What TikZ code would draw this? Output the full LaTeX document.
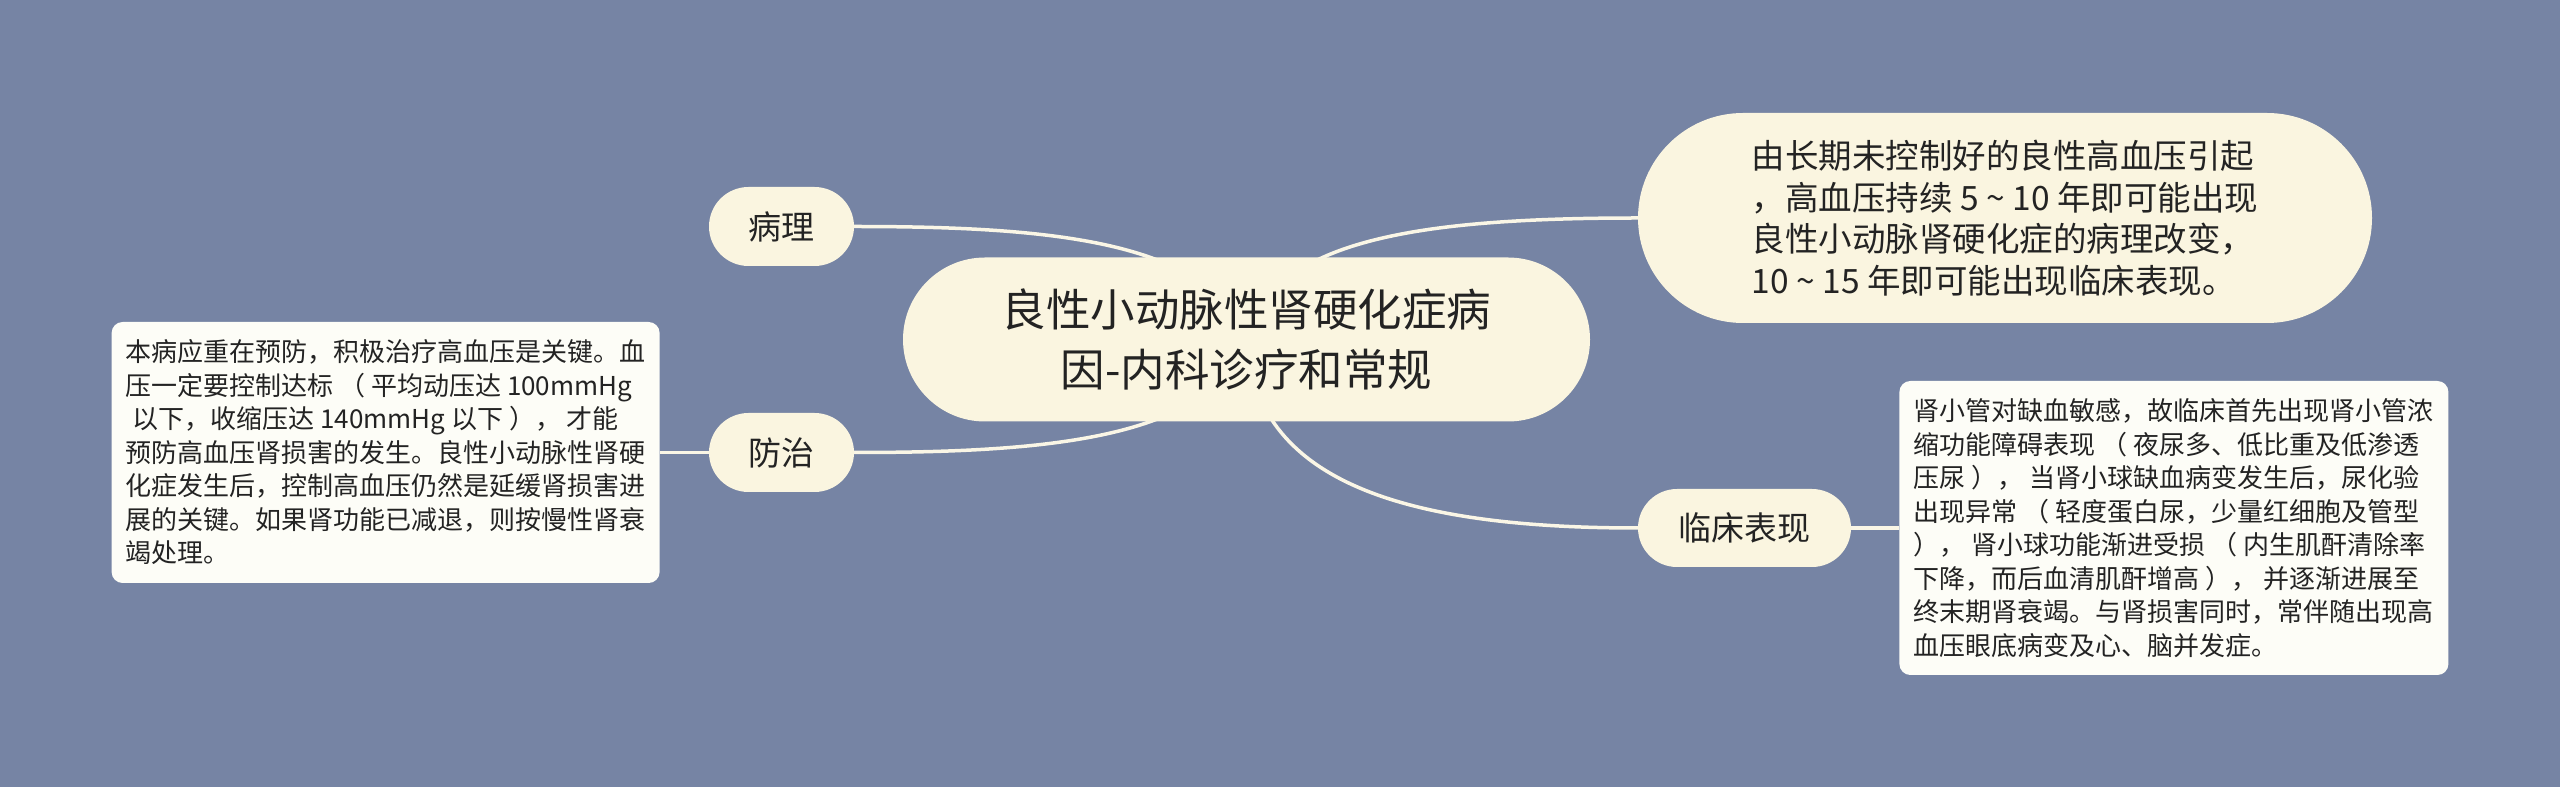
\documentclass[tikz,border=0pt]{standalone}
\usepackage{fontspec}
\setmainfont{Noto Sans CJK SC}
\usetikzlibrary{positioning,backgrounds}

\definecolor{bgblue}{RGB}{118,132,164}
\definecolor{pillfill}{RGB}{250,245,224}
\definecolor{notefill}{RGB}{253,253,247}
\definecolor{linkcol}{RGB}{250,246,230}
\definecolor{inkcol}{RGB}{35,35,35}

\begin{document}
\begin{tikzpicture}[x=1pt, y=1pt,
    topic/.style={fill=pillfill, text=inkcol, inner sep=0pt, align=center},
    sub/.style={topic, minimum width=145pt, minimum height=79pt, rounded corners=39.5pt,
      font=\fontsize{33}{40}\selectfont},
    note/.style={fill=notefill, text=inkcol, inner sep=0pt, align=left, rounded corners=11pt,
      font=\fontsize{26}{33.5}\selectfont},
    link/.style={draw=linkcol, line width=3.5pt}]
  \useasboundingbox (0,0) rectangle (2560,787);

  \node[topic, minimum width=687pt, minimum height=164pt, rounded corners=82pt,
    font=\fontsize{44.5}{60}\selectfont] (root) at (1246.5,447.5)
    {良性小动脉性肾硬化症病\\因-内科诊疗和常规};

  \node[sub] (bl) at (781.5,560.5) {病理};
  \node[sub] (fz) at (781.5,334.5) {防治};
  \node[sub, minimum width=213pt, minimum height=78pt, rounded corners=39pt] (lc) at (1744.5,259) {临床表现};

  \node[topic, align=left, minimum width=734pt, minimum height=210pt, rounded corners=105pt,
    font=\fontsize{33.5}{41.5}\selectfont] (cause) at (2005,569)
    {由长期未控制好的良性高血压引起\\
     ，高血压持续 5 \textasciitilde{} 10 年即可能出现\\
     良性小动脉肾硬化症的病理改变，\\
     10 \textasciitilde{} 15 年即可能出现临床表现。};

  \node[note, left=49pt of fz, minimum width=548pt, minimum height=261pt] (prevent)
    {本病应重在预防，积极治疗高血压是关键。血\\
     压一定要控制达标 （ 平均动压达 100mmHg\\
     \hspace{7pt}以下，收缩压达 140mmHg 以下 ）， 才能\\
     预防高血压肾损害的发生。良性小动脉性肾硬\\
     化症发生后，控制高血压仍然是延缓肾损害进\\
     展的关键。如果肾功能已减退，则按慢性肾衰\\
     竭处理。};

  \node[note, right=48pt of lc, minimum width=549pt, minimum height=294pt] (clinic)
    {肾小管对缺血敏感，故临床首先出现肾小管浓\\
     缩功能障碍表现 （ 夜尿多、低比重及低渗透\\
     压尿 ）， 当肾小球缺血病变发生后，尿化验\\
     出现异常 （ 轻度蛋白尿，少量红细胞及管型\\
     ）， 肾小球功能渐进受损 （ 内生肌酐清除率\\
     下降，而后血清肌酐增高 ）， 并逐渐进展至\\
     终末期肾衰竭。与肾损害同时，常伴随出现高\\
     血压眼底病变及心、脑并发症。};

  \begin{scope}[on background layer]
    \fill[bgblue] (0,0) rectangle (2560,787);
    \draw[link] (bl.east) .. controls +(195,0) and +(-36,99) .. (root.center);
    \draw[link] (fz.east) .. controls +(195,0) and +(-36,-99) .. (root.center);
    \draw[link] (root.center) .. controls +(24,100) and +(-218,0) .. (cause.west);
    \draw[link] (root.center) .. controls +(8.5,-140.5) and +(-238,0) .. (lc.west);
    \draw[link] (fz.west) -- (prevent.east);
    \draw[link] (lc.east) -- (clinic.west);
  \end{scope}
\end{tikzpicture}
\end{document}
